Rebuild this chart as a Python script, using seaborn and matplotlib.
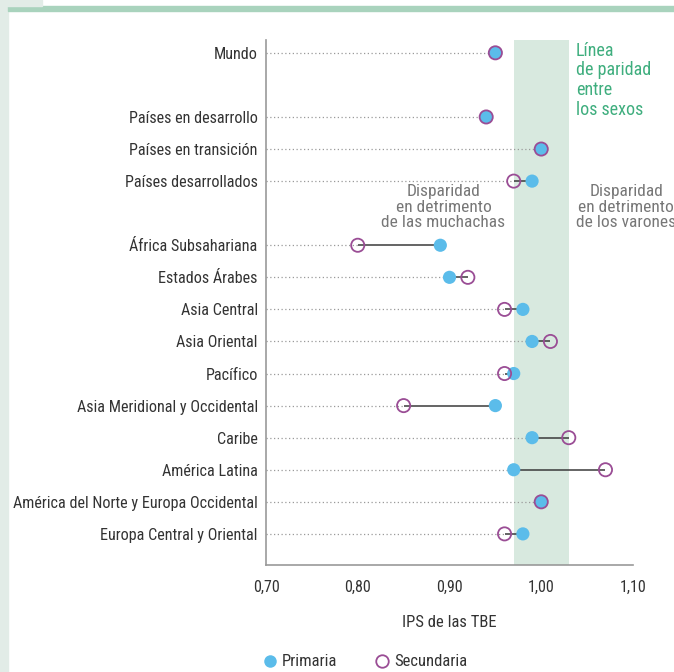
import numpy as np
import pandas as pd
import matplotlib
matplotlib.use("Agg")
import matplotlib.pyplot as plt
from matplotlib.lines import Line2D
from matplotlib.patches import Rectangle
import seaborn as sns

regions = ["Mundo", "Países en desarrollo", "Países en transición", "Países desarrollados",
           "África Subsahariana", "Estados Árabes", "Asia Central", "Asia Oriental",
           "Pacífico", "Asia Meridional y Occidental", "Caribe", "América Latina",
           "América del Norte y Europa Occidental", "Europa Central y Oriental"]
slots = [0, 2, 3, 4, 6, 7, 8, 9, 10, 11, 12, 13, 14, 15]
primaria = [0.95, 0.94, 1.00, 0.99, 0.89, 0.90, 0.98, 0.99, 0.97, 0.95, 0.99, 0.97, 1.00, 0.98]
secundaria = [0.95, 0.94, 1.00, 0.97, 0.80, 0.92, 0.96, 1.01, 0.96, 0.85, 1.03, 1.07, 1.00, 0.96]
xticks = [0.70, 0.80, 0.90, 1.00, 1.10]
parity_band = (0.97, 1.03)

BLUE = "#5bbcea"
PURPLE = "#9a4d95"
GREEN = "#3fae7e"
GREY = "#777777"
TXT = "#333333"

sns.set_style("white")
plt.rcParams["font.family"] = ["Roboto Condensed", "Archivo Narrow", "DejaVu Sans"]

df = pd.DataFrame({"region": regions, "slot": slots,
                   "primaria": primaria, "secundaria": secundaria})

fig = plt.figure(figsize=(6.74, 6.72), dpi=100)
ax = fig.add_axes([266 / 674, 1 - 565 / 672, (633 - 266) / 674, (565 - 40) / 672])

# decoration: left strip + top rule
fig.patches.append(Rectangle((0, 0), 8 / 674, 1, transform=fig.transFigure,
                             color="#e2ece7", zorder=0))
fig.patches.append(Rectangle((8 / 674, 1 - 11 / 672), 1, 5 / 672,
                             transform=fig.transFigure, color="#a9d3bd", zorder=0))
fig.patches.append(Rectangle((0, 1 - 6 / 672), 42 / 674, 6 / 672,
                             transform=fig.transFigure, color="#e2ece7", zorder=0))

ax.axvspan(*parity_band, color="#d8e9df", zorder=0, lw=0)

lo = df[["primaria", "secundaria"]].min(axis=1)
hi = df[["primaria", "secundaria"]].max(axis=1)
ax.hlines(df["slot"], xticks[0], lo, colors="#9a9a9a", linestyles=(0, (1, 2)), lw=0.9, zorder=1)
ax.hlines(df["slot"], lo, hi, colors="#3a3a3a", lw=1.1, zorder=2)

sns.scatterplot(data=df, x="primaria", y="slot", ax=ax, color=BLUE, s=90,
                edgecolor="none", zorder=3, legend=False)
sns.scatterplot(data=df, x="secundaria", y="slot", ax=ax, facecolor="none", s=90,
                edgecolor=PURPLE, linewidth=1.3, zorder=4, legend=False)

ax.set_xlim(xticks[0], xticks[-1])
ax.set_ylim(15.97, -0.4)
ax.set_xticks(xticks)
ax.set_xticklabels([f"{v:.2f}".replace(".", ",") for v in xticks], fontsize=11.5, color=TXT)
ax.set_yticks(slots)
ax.set_yticklabels(regions, fontsize=11.6, color=TXT)
ax.tick_params(axis="y", length=0, pad=6)
ax.tick_params(axis="x", length=7, width=1, color="#999999", pad=4, direction="out")
ax.set_xlabel("IPS de las TBE", fontsize=12, color=TXT, labelpad=14)
ax.set_ylabel("")
for s in ["top", "right"]:
    ax.spines[s].set_visible(False)
for s in ["left", "bottom"]:
    ax.spines[s].set_color("#999999")
    ax.spines[s].set_linewidth(1.2)

ax.text(1.0375, -0.35, "Línea\nde paridad\nentre\nlos sexos", color=GREEN, fontsize=13,
        va="top", ha="left", linespacing=1.12)
ax.text(0.8935, 4.1, "Disparidad\nen detrimento\nde las muchachas", color=GREY, fontsize=12.5,
        va="top", ha="center", linespacing=1.02)
ax.text(1.0925, 4.1, "Disparidad\nen detrimento\nde los varones", color=GREY, fontsize=12.5,
        va="top", ha="center", linespacing=1.02, clip_on=False)

handles = [Line2D([], [], marker="o", ls="none", color=BLUE, markersize=9, markeredgecolor="none"),
           Line2D([], [], marker="o", ls="none", markerfacecolor="none",
                  markeredgecolor=PURPLE, markeredgewidth=1.3, markersize=9)]
fig.legend(handles, ["Primaria", "Secundaria"], loc="center", bbox_to_anchor=(0.542, 1 - 662 / 672),
           ncol=2, frameon=False, fontsize=12, handlelength=0.8, handletextpad=0.3,
           columnspacing=2.3, labelcolor=TXT)

fig.savefig("out.png", dpi=100)
